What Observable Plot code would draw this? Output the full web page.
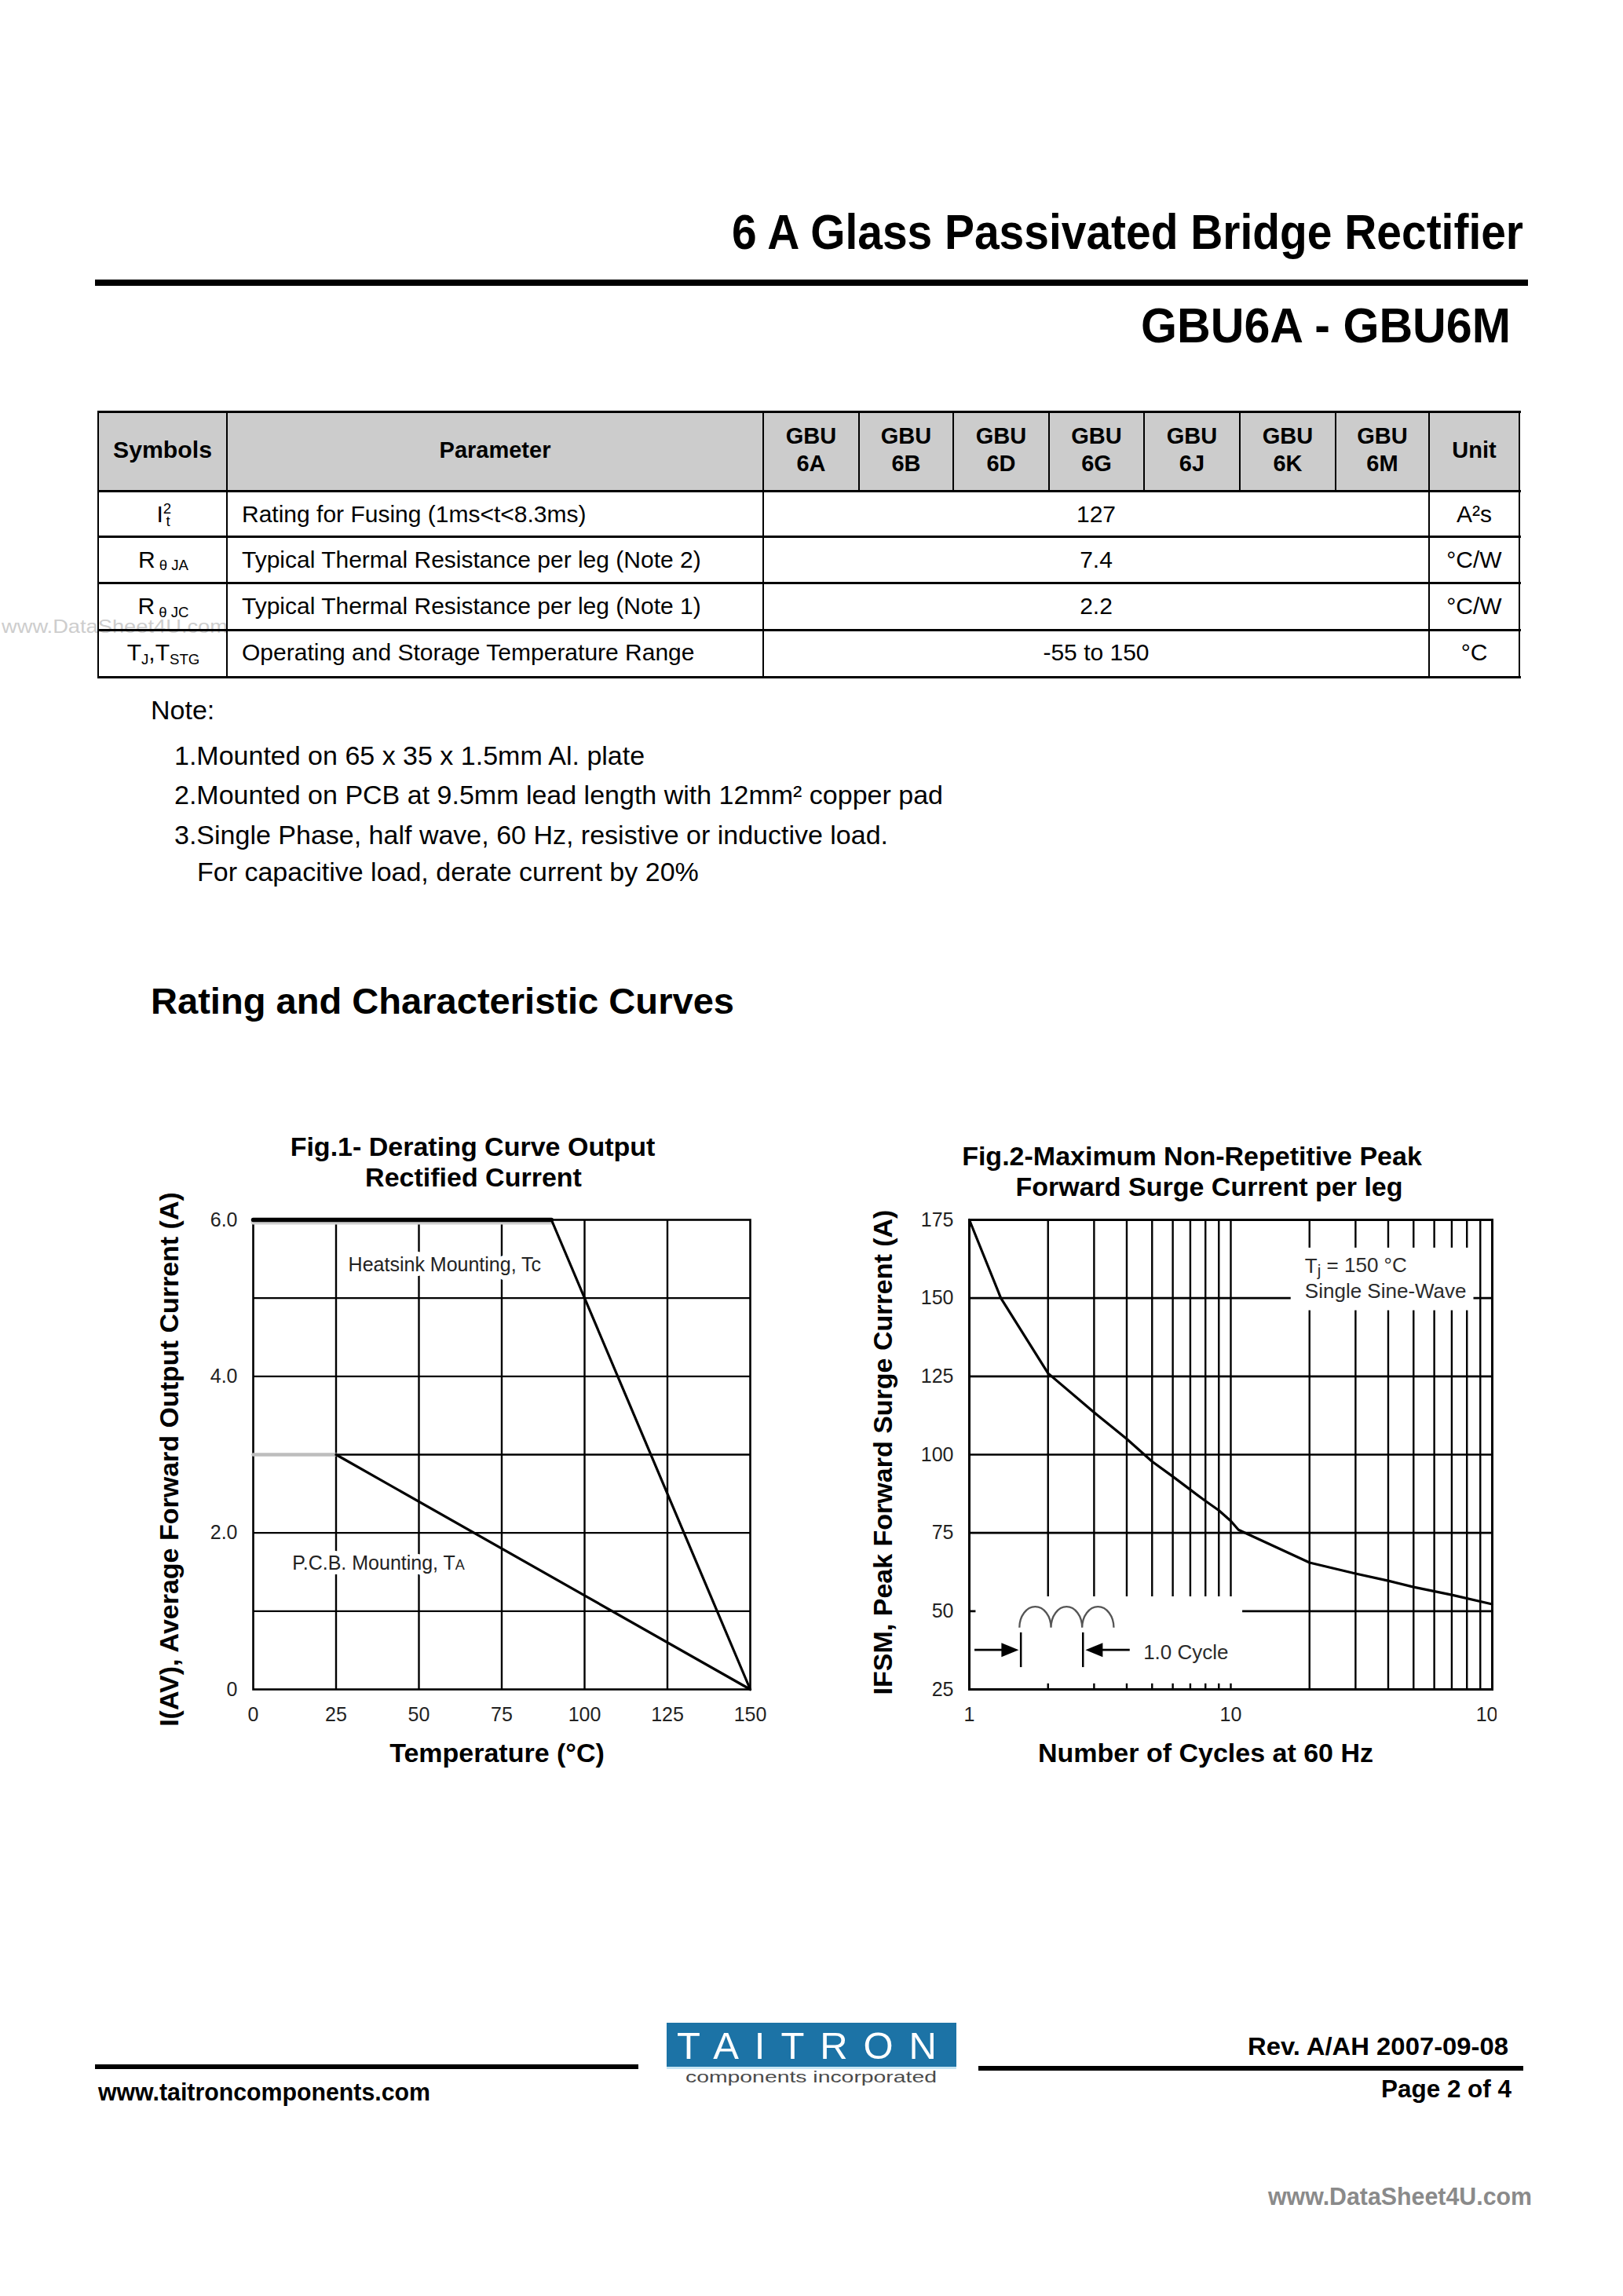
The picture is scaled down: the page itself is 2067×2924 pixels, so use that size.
<!DOCTYPE html>
<html><head><meta charset="utf-8">
<script src="https://cdn.jsdelivr.net/npm/d3@7"></script>
<script src="https://cdn.jsdelivr.net/npm/@observablehq/plot@0.6"></script>
<style>
html,body{margin:0;padding:0;background:#fff;}
#page{position:relative;width:2067px;height:2924px;overflow:hidden;background:#fff;font-family:"Liberation Sans",Arial,Helvetica,sans-serif;}
#page .t{position:absolute;white-space:nowrap;transform-origin:0 0;}
.sup{font-size:.62em;position:relative;top:-.55em;}
.sub{font-size:.62em;position:relative;top:.3em;}
.ln{position:absolute;}
</style></head><body><div id="page"></div>
<script>
// ---------------- DATA ----------------
const docTitle = "6 A Glass Passivated Bridge Rectifier";
const partRange = "GBU6A - GBU6M";
const tableHeaders = ["Symbols", "Parameter", "Unit"];
const partNumbers = ["6A", "6B", "6D", "6G", "6J", "6K", "6M"];
const symbolsHtml = [
  "I<span class='sup'>2</span><span class='sub' style='margin-left:-.36em'>t</span>",
  "R<span style='font-size:.62em;position:relative;top:.2em'> θ JA</span>",
  "R<span style='font-size:.62em;position:relative;top:.2em'> θ JC</span>",
  "T<span class='sub'>J</span>,T<span class='sub'>STG</span>"
];
const parameters = [
  "Rating for Fusing (1ms<t<8.3ms)",
  "Typical Thermal Resistance per leg (Note 2)",
  "Typical Thermal Resistance per leg (Note 1)",
  "Operating and Storage Temperature Range"
];
const ratingValues = ["127", "7.4", "2.2", "-55 to 150"];
const units = ["A²s", "°C/W", "°C/W", "°C"];
const notes = [
  "Note:",
  "1.Mounted on 65 x 35 x 1.5mm Al. plate",
  "2.Mounted on PCB at 9.5mm lead length with 12mm² copper pad",
  "3.Single Phase, half wave, 60 Hz, resistive or inductive load.",
  "For capacitive load, derate current by 20%"
];
const sectionHeading = "Rating and Characteristic Curves";

// Fig. 1 – derating curve
const fig1Title = ["Fig.1- Derating Curve Output", "Rectified Current"];
const fig1XLabel = "Temperature (°C)";
const fig1YLabel = "I(AV), Average Forward Output Current (A)";
const fig1XTicks = [0, 25, 50, 75, 100, 125, 150];
const fig1XGrid = [25, 50, 75, 100, 125];
const fig1YTicks = [0, 2, 4, 6];
const fig1YTickLabels = ["0", "2.0", "4.0", "6.0"];
const fig1YGrid = [1, 2, 3, 4, 5];
const heatsinkTemp = [0, 90, 150];
const heatsinkCurrent = [6, 6, 0];
const pcbTemp = [0, 25, 150];
const pcbCurrent = [3, 3, 0];
const fig1Labels = ["Heatsink Mounting, Tc", "P.C.B. Mounting, TA"];

// Fig. 2 – surge current
const fig2Title = ["Fig.2-Maximum Non-Repetitive Peak", "Forward Surge Current per leg"];
const fig2XLabel = "Number of Cycles at 60 Hz";
const fig2YLabel = "IFSM, Peak Forward Surge Current (A)";
const fig2XTicks = [1, 10, 100];
const fig2YTicks = [25, 50, 75, 100, 125, 150, 175];
const fig2XGrid = [2, 3, 4, 5, 6, 7, 8, 9, 10, 20, 30, 40, 50, 60, 70, 80, 90];
const fig2YGrid = [50, 75, 100, 125, 150];
const cycles       = [1,   1.32, 2,   3,     4,   5,    6,  7,    8,    9,    10,   10.7, 20,   30, 40,   50,   70,   100];
const surgeCurrent = [175, 150,  126, 113.5, 105, 97.8, 93, 88.8, 85.2, 82.2, 78.8, 76,   65.5, 62, 59.7, 57.7, 55.2, 52.2];
const fig2Labels = ["Tj = 150 °C", "Single Sine-Wave", "1.0 Cycle"];

// footer
const footerLeft = "www.taitroncomponents.com";
const footerRev = "Rev. A/AH 2007-09-08";
const footerPage = "Page 2 of 4";
const logoWord = "TAITRON";
const logoSub = "components incorporated";
const watermark = "www.DataSheet4U.com";

// ---------------- LAYOUT HELPERS ----------------
const page = document.getElementById("page");
const SANS = '"Liberation Sans", Arial, Helvetica, sans-serif';
function put(content, o) {
  const el = document.createElement("div");
  el.className = "t";
  const size = o.size;
  el.style.fontSize = size + "px";
  el.style.lineHeight = size + "px";
  el.style.fontWeight = o.weight || 400;
  el.style.color = o.color || "#000";
  if (o.html) el.innerHTML = content; else el.textContent = content;
  page.appendChild(el);
  let w = el.getBoundingClientRect().width;
  if (o.spread) {
    const n = content.length - 1;
    const sp = (o.spread - w) / n;
    el.style.letterSpacing = sp + "px";
    w = o.spread;
  }
  const k = o.width ? o.width / w : 1;
  const anchor = o.anchor || "start";
  const left = anchor === "start" ? o.x : anchor === "end" ? o.x - w * k : o.x - w * k / 2;
  el.style.left = left + "px";
  el.style.top = (o.baseline - 0.8465 * size) + "px";
  if (k !== 1) el.style.transform = `scaleX(${k})`;
  return el;
}
function box(x, y, w, h, color = "#000") {
  const el = document.createElement("div");
  el.className = "ln";
  el.style.cssText += `left:${x}px;top:${y}px;width:${w}px;height:${h}px;background:${color};`;
  page.appendChild(el);
}

// ---------------- HEADER ----------------
put(docTitle, {x: 1940, baseline: 317, size: 63, weight: 700, anchor: "end", width: 1008});
box(121, 356, 1825, 8);
put(partRange, {x: 1924, baseline: 436, size: 63, weight: 700, anchor: "end", width: 471});

// ---------------- TABLE ----------------
const colX = [125, 289, 972, 1094, 1214, 1336, 1457, 1579, 1701, 1820, 1935];
const rowY = [524, 625, 683, 742, 802, 862];
put(watermark, {x: 2, baseline: 806, size: 24, color: "#cdcdcd", width: 288});
box(colX[0], rowY[0], colX[10] - colX[0], rowY[1] - rowY[0], "#cccccc");
rowY.forEach(y => box(colX[0] - 1.5, y - 1.5, colX[10] - colX[0] + 3, 3));
[0, 1, 2, 9, 10].forEach(i => box(colX[i] - 1.25, rowY[0], 2.5, rowY[5] - rowY[0]));
[3, 4, 5, 6, 7, 8].forEach(i => box(colX[i] - 1.25, rowY[0], 2.5, rowY[1] - rowY[0]));
put(tableHeaders[0], {x: (colX[0] + colX[1]) / 2, baseline: 584, size: 29, weight: 700, anchor: "middle", width: 126});
put(tableHeaders[1], {x: (colX[1] + colX[2]) / 2, baseline: 584, size: 29, weight: 700, anchor: "middle"});
put(tableHeaders[2], {x: (colX[9] + colX[10]) / 2, baseline: 584, size: 29, weight: 700, anchor: "middle"});
partNumbers.forEach((p, i) => {
  const cx = (colX[2 + i] + colX[3 + i]) / 2;
  put("GBU", {x: cx, baseline: 566, size: 29, weight: 700, anchor: "middle"});
  put(p, {x: cx, baseline: 601, size: 29, weight: 700, anchor: "middle"});
});
const bodyBase = [665, 723, 782.5, 841];
parameters.forEach((p, i) => {
  put(symbolsHtml[i], {x: 208, baseline: bodyBase[i], size: 30, anchor: "middle", html: true});
  put(p, {x: 308, baseline: bodyBase[i], size: 30});
  put(ratingValues[i], {x: (colX[2] + colX[9]) / 2, baseline: bodyBase[i], size: 30, anchor: "middle"});
  put(units[i], {x: (colX[9] + colX[10]) / 2, baseline: bodyBase[i], size: 30, anchor: "middle"});
});

// ---------------- NOTES ----------------
const noteX = [192, 222, 222, 222, 251];
const noteBase = [916, 974, 1024, 1075, 1122];
notes.forEach((n, i) => put(n, {x: noteX[i], baseline: noteBase[i], size: 34}));
put(sectionHeading, {x: 192, baseline: 1291, size: 47, weight: 700, width: 743});

// ---------------- FIG TITLES ----------------
put(fig1Title[0], {x: 602, baseline: 1472, size: 34, weight: 700, anchor: "middle"});
put(fig1Title[1], {x: 603, baseline: 1511, size: 34, weight: 700, anchor: "middle"});
put(fig2Title[0], {x: 1518, baseline: 1484, size: 34, weight: 700, anchor: "middle"});
put(fig2Title[1], {x: 1540, baseline: 1523, size: 34, weight: 700, anchor: "middle"});

// ---------------- FIG 1 ----------------
const heatsink = heatsinkTemp.map((t, i) => ({t, a: heatsinkCurrent[i]}));
const pcb = pcbTemp.map((t, i) => ({t, a: pcbCurrent[i]}));
const fig1 = Plot.plot({
  width: 835, height: 791,
  marginLeft: 172, marginRight: 30, marginTop: 73, marginBottom: 120,
  x: {type: "linear", domain: [0, 150]},
  y: {type: "linear", domain: [0, 6]},
  style: {fontFamily: SANS, background: "transparent", color: "#222"},
  marks: [
    Plot.ruleX(fig1XGrid, {stroke: "#000", strokeWidth: 2.4}),
    Plot.ruleY(fig1YGrid, {stroke: "#000", strokeWidth: 2.4}),
    Plot.text([fig1Labels[0]], {x: () => 28.7, y: () => 5.42, text: d => d, textAnchor: "start", lineAnchor: "middle",
      fontSize: 25, fill: "#222", stroke: "white", strokeWidth: 12, paintOrder: "stroke"}),
    Plot.text([fig1Labels[1]], {x: () => 11.8, y: () => 1.61, text: d => d, textAnchor: "start", lineAnchor: "middle",
      fontSize: 25, fill: "#222", stroke: "white", strokeWidth: 12, paintOrder: "stroke"}),
    Plot.frame({stroke: "#000", strokeWidth: 2.6}),
    Plot.line(pcb.slice(0, 2), {x: "t", y: "a", stroke: "#bdbdbd", strokeWidth: 4.5}),
    Plot.line(pcb.slice(1), {x: "t", y: "a", stroke: "#000", strokeWidth: 3.2}),
    Plot.line(heatsink.slice(0, 2), {x: "t", y: "a", stroke: "#cfcfcf", strokeWidth: 6, dy: 3}),
    Plot.line(heatsink.slice(0, 2), {x: "t", y: "a", stroke: "#000", strokeWidth: 5.5}),
    Plot.line(heatsink.slice(1), {x: "t", y: "a", stroke: "#000", strokeWidth: 3.2}),
    Plot.axisX({ticks: fig1XTicks, tickSize: 0, tickPadding: 23, fontSize: 25, fill: "#222", label: null, tickFormat: d => String(d)}),
    Plot.axisY({ticks: fig1YTicks, tickSize: 0, tickPadding: 20, fontSize: 25, fill: "#222", label: null,
      tickFormat: d => fig1YTickLabels[fig1YTicks.indexOf(d)]}),
    Plot.text([fig1XLabel], {frameAnchor: "bottom", text: d => d, textAnchor: "middle", lineAnchor: "middle", dy: 82, dx: -6,
      fontSize: 34, fontWeight: "bold", fill: "#000"}),
    Plot.text([fig1YLabel], {frameAnchor: "left", text: d => d, textAnchor: "middle", lineAnchor: "middle", rotate: -90, dx: -106, dy: 6,
      fontSize: 34, fontWeight: "bold", fill: "#000"})
  ]
});
fig1.style.position = "absolute"; fig1.style.left = "150px"; fig1.style.top = "1480px"; fig1.style.maxWidth = "none";
page.appendChild(fig1);

// ---------------- FIG 2 ----------------
const surge = cycles.map((n, i) => ({n, a: surgeCurrent[i]}));
// annotation layout (label boxes and inset schematic), in chart units
const labelMasks = [{x1: 1.06, x2: 11.1, y1: 25, y2: 54.6}, {x1: 17, x2: 85, y1: 146, y2: 166}];
const insetHumpEdges = [1.56, 2.06, 2.71, 3.58];
const insetHump = {top: 51.3, base: 44.6};
const insetMarkers = [1.58, 2.73];
const insetMarkerSpan = [32, 43.1];
const insetArrows = [{from: 1.05, to: 1.55}, {from: 4.12, to: 2.79}];
const insetArrowLevel = 37.5;
function insetDrawing(index, scales) {
  const {x, y} = scales;
  const g = d3.create("svg:g");
  const yb = y(insetHump.base), yt = y(insetHump.top);
  let d = "";
  for (let i = 0; i < insetHumpEdges.length - 1; i++) {
    const x0 = x(insetHumpEdges[i]), x1 = x(insetHumpEdges[i + 1]);
    d += `M${x0},${yb}A${(x1 - x0) / 2},${yb - yt} 0 0 1 ${x1},${yb}`;
  }
  g.append("path").attr("d", d).attr("fill", "none").attr("stroke", "#555").attr("stroke-width", 2.3);
  insetMarkers.forEach(m => g.append("line").attr("x1", x(m)).attr("x2", x(m))
    .attr("y1", y(insetMarkerSpan[0])).attr("y2", y(insetMarkerSpan[1])).attr("stroke", "#000").attr("stroke-width", 2.5));
  const ya = y(insetArrowLevel);
  insetArrows.forEach(a => {
    const xf = x(a.from), xt = x(a.to), dir = Math.sign(xt - xf);
    g.append("line").attr("x1", xf).attr("x2", xt - dir * 10).attr("y1", ya).attr("y2", ya).attr("stroke", "#000").attr("stroke-width", 2.6);
    g.append("path").attr("d", `M${xt},${ya}L${xt - dir * 22},${ya - 9}L${xt - dir * 22},${ya + 9}Z`).attr("fill", "#000");
  });
  return g.node();
}
const fig2 = Plot.plot({
  width: 846, height: 791,
  marginLeft: 174, marginRight: 6, marginTop: 73, marginBottom: 120,
  x: {type: "log", domain: [1, 100]},
  y: {type: "linear", domain: [25, 175]},
  style: {fontFamily: SANS, background: "transparent", color: "#222", overflow: "hidden"},
  marks: [
    Plot.ruleX(fig2XGrid, {stroke: "#000", strokeWidth: 2.4}),
    Plot.ruleY(fig2YGrid, {stroke: "#000", strokeWidth: 2.6}),
    Plot.rect(labelMasks, {x1: "x1", x2: "x2", y1: "y1", y2: "y2", fill: "white"}),
    Plot.ruleX(fig2XGrid.filter(d => d <= 10), {y1: 25, y2: 26.8, stroke: "#000", strokeWidth: 2.4}),
    Plot.frame({stroke: "#000", strokeWidth: 3}),
    Plot.line(surge, {x: "n", y: "a", stroke: "#000", strokeWidth: 3.2}),
    insetDrawing,
    Plot.text([fig2Labels[0]], {x: () => 19.2, y: () => 160.2, text: d => d, textAnchor: "start", lineAnchor: "middle", fontSize: 26, fill: "#2b2b2b"}),
    Plot.text([fig2Labels[1]], {x: () => 19.2, y: () => 152.2, text: d => d, textAnchor: "start", lineAnchor: "middle", fontSize: 26, fill: "#2b2b2b"}),
    Plot.text([fig2Labels[2]], {x: () => 4.63, y: () => 36.8, text: d => d, textAnchor: "start", lineAnchor: "middle", fontSize: 26, fill: "#2b2b2b"}),
    Plot.axisX({ticks: fig2XTicks, tickSize: 0, tickPadding: 23, fontSize: 25, fill: "#222", label: null, tickFormat: d => String(d)}),
    Plot.axisY({ticks: fig2YTicks, tickSize: 0, tickPadding: 20, fontSize: 25, fill: "#222", label: null, tickFormat: d => String(d)}),
    Plot.text([fig2XLabel], {frameAnchor: "bottom", text: d => d, textAnchor: "middle", lineAnchor: "middle", dy: 82, dx: -32,
      fontSize: 34, fontWeight: "bold", fill: "#000"}),
    Plot.text([fig2YLabel], {frameAnchor: "left", text: d => d, textAnchor: "middle", lineAnchor: "middle", rotate: -90, dx: -109, dy: -3,
      fontSize: 34, fontWeight: "bold", fill: "#000"})
  ]
});
fig2.style.position = "absolute"; fig2.style.left = "1060px"; fig2.style.top = "1480px"; fig2.style.maxWidth = "none";
page.appendChild(fig2);

// subscripts inside chart labels
document.querySelectorAll("#page svg text").forEach(t => {
  if (t.textContent === fig1Labels[1]) t.innerHTML = "P.C.B. Mounting, T<tspan font-size='0.72em'>A</tspan>";
  if (t.textContent === fig2Labels[0]) t.innerHTML = "T<tspan font-size='0.8em' dy='0.22em'>j</tspan><tspan dy='-0.22em'> = 150 °C</tspan>";
});

// ---------------- FOOTER ----------------
box(121, 2629, 692, 6);
box(1246, 2631, 694, 6);
box(849, 2576, 369, 56, "#1c73a6");
box(849, 2632, 369, 3, "#c6e5f3");
put(logoWord, {x: 862, baseline: 2622, size: 49, color: "#fff", spread: 331});
put(logoSub, {x: 873, baseline: 2652, size: 21, color: "#4a4a4a", width: 320});
put(footerRev, {x: 1921, baseline: 2617, size: 31, weight: 700, anchor: "end", width: 332});
put(footerPage, {x: 1925, baseline: 2671, size: 31, weight: 700, anchor: "end", width: 166});
put(footerLeft, {x: 125, baseline: 2675, size: 31, weight: 700, width: 423});
put(watermark, {x: 1615, baseline: 2808, size: 32, weight: 700, color: "#8a8a8a", width: 336});
</script></body></html>
